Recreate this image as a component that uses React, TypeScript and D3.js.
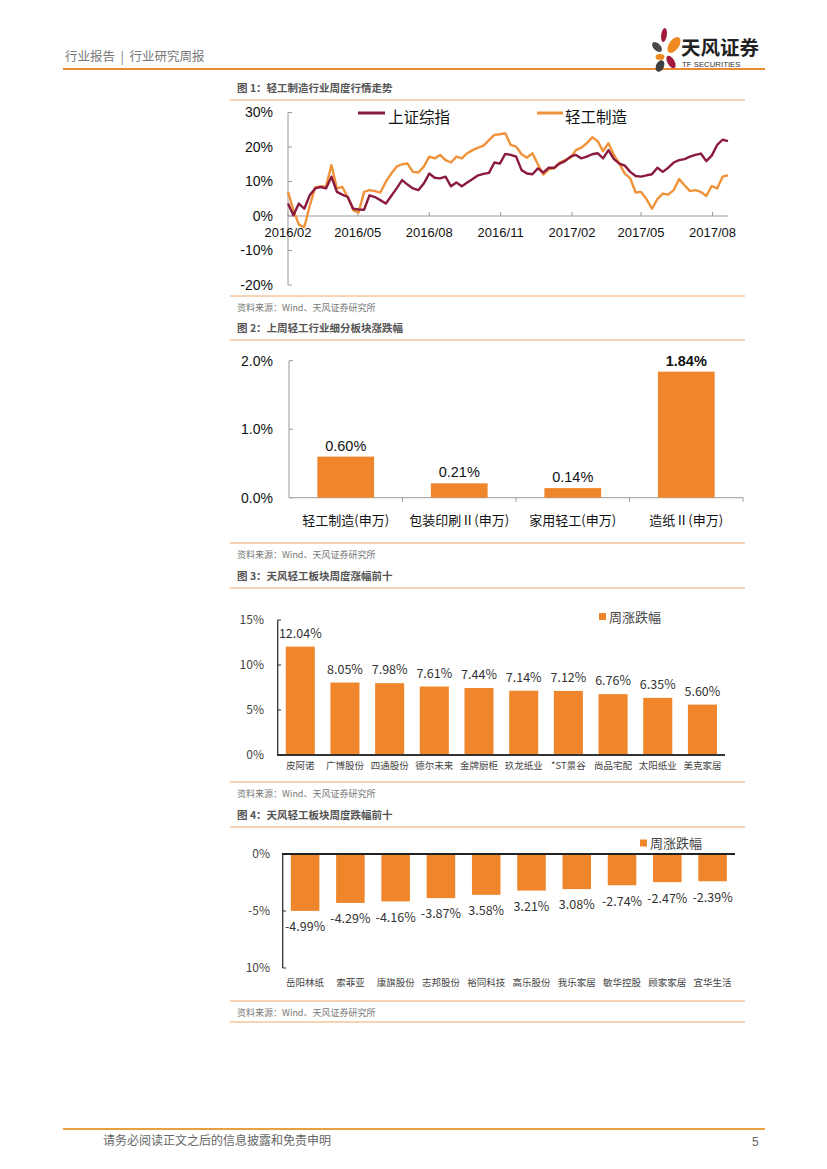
import React from 'react';
import * as d3 from 'd3';

// ---------- Data ----------
// Chart 1: weekly cumulative returns (%), Fridays from 2016-02-05
const shIndex = [3.6,0.2,3.6,2.1,6.0,8.0,8.4,8.0,11.4,7.0,6.2,5.5,2.1,1.9,1.8,6.0,5.5,4.6,3.6,5.8,8.0,10.4,9.1,8.0,7.5,9.4,12.3,11.1,10.9,11.4,8.6,9.7,8.6,9.7,10.7,11.8,12.2,12.5,15.5,15.2,18.0,17.7,17.2,13.3,12.3,12.1,13.8,12.6,14.0,14.0,15.2,15.9,17.2,17.7,16.7,17.2,17.9,18.2,16.7,19.1,16.5,15.2,14.6,12.8,11.6,11.4,11.8,12.1,14.0,12.8,14.0,15.5,16.2,16.5,17.2,17.7,18.1,15.9,17.5,20.6,22.1,21.7];
const lightInd = [7.0,1.7,-2.5,-3.2,2.9,8.3,8.6,8.6,14.8,8.0,8.4,5.5,1.7,1.0,7.0,7.5,7.2,6.8,9.9,12.3,14.3,15.0,15.2,12.8,12.6,14.3,17.2,16.7,17.7,16.2,15.5,17.2,16.7,18.2,19.1,19.8,20.4,22.0,23.5,23.7,24.0,20.6,20.1,17.9,16.9,18.2,15.0,12.0,13.5,13.8,15.5,16.2,16.9,19.1,19.8,21.1,22.8,21.7,18.8,21.1,17.7,15.2,12.3,10.9,6.8,7.0,4.9,2.1,4.9,6.5,6.2,7.5,10.7,8.9,7.2,7.5,7.0,5.8,8.7,8.0,11.4,11.8];
const chart1Series = ['上证综指', '轻工制造'];
const chart1XTicks = ['2016/02', '2016/05', '2016/08', '2016/11', '2017/02', '2017/05', '2017/08'];
const chart1YTicks = [30, 20, 10, 0, -10, -20];

// Chart 2
const sectors = ['轻工制造(申万)', '包装印刷Ⅱ(申万)', '家用轻工(申万)', '造纸Ⅱ(申万)'];
const sectorValues = [0.60, 0.21, 0.14, 1.84];
const chart2YTicks = [2.0, 1.0, 0.0];

// Chart 3
const gainers = ['皮阿诺', '广博股份', '四通股份', '德尔未来', '金牌厨柜', '玖龙纸业', '*ST景谷', '尚品宅配', '太阳纸业', '美克家居'];
const gainValues = [12.04, 8.05, 7.98, 7.61, 7.44, 7.14, 7.12, 6.76, 6.35, 5.60];
const chart3YTicks = [15, 10, 5, 0];

// Chart 4
const losers = ['岳阳林纸', '索菲亚', '康旗股份', '志邦股份', '裕同科技', '高乐股份', '我乐家居', '敏华控股', '顾家家居', '宜华生活'];
const lossValues = [-4.99, -4.29, -4.16, -3.87, -3.58, -3.21, -3.08, -2.74, -2.47, -2.39];
const lossLabels = ['-4.99%', '-4.29%', '-4.16%', '-3.87%', '3.58%', '3.21%', '3.08%', '-2.74%', '-2.47%', '-2.39%'];
const chart4YTicks = [0, -5, -10];
const chart4YLabels = ['0%', '-5%', '10%'];

const legendName = '周涨跌幅';

// ---------- Styles ----------
const ORANGE = '#F0862B';
const DARKRED = '#8B1A3F';
const LINE_ORANGE = '#F0A86A';
const SANS = '"Liberation Sans", Arial, "Noto Sans CJK SC", sans-serif';
const CJK = '"Noto Sans CJK SC", "Liberation Sans", sans-serif';

function Section({ title, top, bottom }: { title: string; top: number; bottom: number }) {
  return (
    <g>
      <text x={237} y={top - 8} fontFamily={CJK} fontSize={10.5} fontWeight="bold" fill="#555">{title}</text>
      <line x1={230} x2={745} y1={top} y2={top} stroke={LINE_ORANGE} strokeWidth={1} />
      <line x1={230} x2={745} y1={bottom} y2={bottom} stroke={LINE_ORANGE} strokeWidth={1} />
      <text x={237} y={bottom + 15} fontFamily={CJK} fontSize={9} fill="#777">资料来源：Wind、天风证券研究所</text>
    </g>
  );
}

function Chart1() {
  const start = new Date(2016, 1, 5);
  const dates = shIndex.map((_, i) => d3.timeDay.offset(start, 7 * i));
  const x = d3.scaleTime().domain([start, dates[dates.length - 1]]).range([288, 728]);
  const y = d3.scaleLinear().domain([-20, 30]).range([285, 112.5]);
  const tickDates = chart1XTicks.map((_, i) => d3.timeMonth.offset(start, 3 * i));
  const line = d3.line<number>().x((_, i) => x(dates[i])).y(d => y(d)).curve(d3.curveLinear);
  return (
    <g>
      <line x1={288} x2={288} y1={y(30)} y2={y(-20)} stroke="#999" />
      {chart1YTicks.map(t => (
        <g key={t}>
          <line x1={288} x2={292} y1={y(t)} y2={y(t)} stroke="#999" />
          <text x={273} y={y(t)} dy="0.35em" textAnchor="end" fontFamily={SANS} fontSize={14} fill="#111">{t}%</text>
        </g>
      ))}
      <line x1={288} x2={728} y1={y(0)} y2={y(0)} stroke="#999" />
      {tickDates.map((d, i) => (
        <g key={i}>
          <line x1={x(d)} x2={x(d)} y1={y(0)} y2={y(0) - 4} stroke="#999" />
          <text x={x(d)} y={y(0) + 16} dy="0.35em" textAnchor="middle" fontFamily={SANS} fontSize={13} fill="#111">{chart1XTicks[i]}</text>
        </g>
      ))}
      <path d={line(lightInd) || ''} fill="none" stroke="#F0923A" strokeWidth={2.4} strokeLinejoin="round" />
      <path d={line(shIndex) || ''} fill="none" stroke={DARKRED} strokeWidth={2.4} strokeLinejoin="round" />
      <line x1={358} x2={385} y1={113} y2={113} stroke={DARKRED} strokeWidth={3} />
      <text x={388} y={118} dy="0.35em" fontFamily={CJK} fontSize={15.5} fill="#111">{chart1Series[0]}</text>
      <line x1={537} x2={563} y1={113} y2={113} stroke="#F0923A" strokeWidth={3} />
      <text x={565} y={118} dy="0.35em" fontFamily={CJK} fontSize={15.5} fill="#111">{chart1Series[1]}</text>
    </g>
  );
}

function Chart2() {
  const x = d3.scaleBand().domain(sectors).range([289, 743]).paddingInner(0.5).paddingOuter(0.25);
  const y = d3.scaleLinear().domain([0, 2]).range([497.7, 360.7]);
  const step = x.step();
  return (
    <g>
      <line x1={289} x2={289} y1={y(2)} y2={y(0)} stroke="#999" />
      {chart2YTicks.map(t => (
        <g key={t}>
          <line x1={289} x2={293} y1={y(t)} y2={y(t)} stroke="#999" />
          <text x={273} y={y(t)} dy="0.35em" textAnchor="end" fontFamily={SANS} fontSize={14} fill="#111">{t.toFixed(1)}%</text>
        </g>
      ))}
      <line x1={289} x2={743} y1={y(0)} y2={y(0)} stroke="#999" />
      {sectors.map((_, i) => (
        <line key={i} x1={289 + step * (i + 1)} x2={289 + step * (i + 1)} y1={y(0)} y2={y(0) + 4} stroke="#999" />
      ))}
      {sectors.map((s, i) => {
        const v = sectorValues[i];
        const cx = (x(s) || 0) + x.bandwidth() / 2;
        return (
          <g key={s}>
            <rect x={x(s)} y={y(v)} width={x.bandwidth()} height={y(0) - y(v)} fill={ORANGE} />
            <text x={cx} y={y(v) - 6} textAnchor="middle" fontFamily={SANS} fontSize={14.5} fontWeight={v === d3.max(sectorValues) ? 'bold' : 'normal'} fill="#111">{v.toFixed(2)}%</text>
            <text x={cx} y={520} dy="0.35em" textAnchor="middle" fontFamily={CJK} fontSize={13} fill="#111">{s}</text>
          </g>
        );
      })}
    </g>
  );
}

function Chart3() {
  const x = d3.scaleBand().domain(gainers).range([277.7, 725]).paddingInner(0.35).paddingOuter(0.18);
  const y = d3.scaleLinear().domain([0, 15]).range([755, 620]);
  return (
    <g>
      {chart3YTicks.map(t => (
        <g key={t}>
          <line x1={277.7} x2={281} y1={y(t)} y2={y(t)} stroke="#333" />
          <text x={264} y={y(t)} dy="0.35em" textAnchor="end" fontFamily={CJK} fontSize={12} fill="#444">{t}%</text>
        </g>
      ))}
      {gainers.map((s, i) => {
        const v = gainValues[i];
        const cx = (x(s) || 0) + x.bandwidth() / 2;
        return (
          <g key={s}>
            <rect x={x(s)} y={y(v)} width={x.bandwidth()} height={y(0) - y(v)} fill={ORANGE} />
            <text x={cx} y={y(v) - 9} textAnchor="middle" fontFamily={CJK} fontSize={12.5} fill="#333">{v.toFixed(2)}%</text>
            <text x={cx} y={766} dy="0.35em" textAnchor="middle" fontFamily={CJK} fontSize={9.5} fill="#444">{s}</text>
          </g>
        );
      })}
      <line x1={277.7} x2={277.7} y1={y(15)} y2={y(0)} stroke="#333" strokeWidth={1.3} />
      <line x1={277} x2={725} y1={y(0)} y2={y(0)} stroke="#333" strokeWidth={2} />
      <rect x={599} y={613} width={7} height={7} fill={ORANGE} />
      <text x={609} y={617} dy="0.35em" fontFamily={CJK} fontSize={13} fill="#444">{legendName}</text>
    </g>
  );
}

function Chart4() {
  const x = d3.scaleBand().domain(losers).range([282.7, 735]).paddingInner(0.37).paddingOuter(0.18);
  const y = d3.scaleLinear().domain([-10, 0]).range([968, 854]);
  return (
    <g>
      {chart4YTicks.map((t, i) => (
        <g key={t}>
          <line x1={282.7} x2={286} y1={y(t)} y2={y(t)} stroke="#333" />
          <text x={270} y={y(t)} dy="0.35em" textAnchor="end" fontFamily={CJK} fontSize={12} fill="#444">{chart4YLabels[i]}</text>
        </g>
      ))}
      {losers.map((s, i) => {
        const v = lossValues[i];
        const cx = (x(s) || 0) + x.bandwidth() / 2;
        return (
          <g key={s}>
            <rect x={x(s)} y={y(0)} width={x.bandwidth()} height={y(v) - y(0)} fill={ORANGE} />
            <text x={cx} y={y(v) + 16} dy="0.35em" textAnchor="middle" fontFamily={CJK} fontSize={12.5} fill="#333">{lossLabels[i]}</text>
            <text x={cx} y={983} dy="0.35em" textAnchor="middle" fontFamily={CJK} fontSize={9.5} fill="#444">{s}</text>
          </g>
        );
      })}
      <line x1={282.7} x2={282.7} y1={y(0)} y2={y(-10)} stroke="#333" strokeWidth={1.3} />
      <line x1={282} x2={735} y1={y(0)} y2={y(0)} stroke="#222" strokeWidth={2} />
      <rect x={640} y={839.5} width={7} height={7} fill={ORANGE} />
      <text x={650} y={843} dy="0.35em" fontFamily={CJK} fontSize={13} fill="#444">{legendName}</text>
    </g>
  );
}

function Header() {
  return (
    <g>
      <text x={65} y={57} dy="0.35em" fontFamily={CJK} fontSize={12.5} fill="#777" style={{ whiteSpace: 'pre' }}>行业报告  |  行业研究周报</text>
      <line x1={63} x2={765} y1={69} y2={69} stroke="#E98A34" strokeWidth={1.8} />
      {/* logo petals */}
      <ellipse cx={664} cy={35} rx={2.8} ry={7} fill="#A11A3C" transform="rotate(8 664 35)" />
      <ellipse cx={674} cy={45} rx={5} ry={9} fill="#EE8A1F" transform="rotate(35 674 45)" />
      <ellipse cx={657} cy={47} rx={3.5} ry={6} fill="#4A4A4A" transform="rotate(-45 657 47)" />
      <ellipse cx={660} cy={57} rx={4.5} ry={3} fill="#EE8A1F" />
      <ellipse cx={671} cy={62} rx={3.5} ry={7} fill="#A11A3C" transform="rotate(-30 671 62)" />
      <ellipse cx={660} cy={66} rx={4} ry={6} fill="#3F3F3F" transform="rotate(25 660 66)" />
      <text x={681} y={48} dy="0.35em" fontFamily={CJK} fontSize={19.5} fontWeight="bold" fill="#222">天风证券</text>
      <text x={682} y={64} dy="0.35em" fontFamily={SANS} fontSize={7.8} fill="#333">TF SECURITIES</text>
    </g>
  );
}

function Footer() {
  return (
    <g>
      <line x1={63} x2={765} y1={1129} y2={1129} stroke="#E9A040" strokeWidth={2} />
      <text x={103} y={1141} dy="0.35em" fontFamily={CJK} fontSize={12} fill="#666">请务必阅读正文之后的信息披露和免责申明</text>
      <text x={752} y={1142} dy="0.35em" fontFamily={SANS} fontSize={12} fill="#666">5</text>
    </g>
  );
}

export default function App() {
  return (
    <svg width={827} height={1169} viewBox="0 0 827 1169" style={{ position: 'absolute', left: 0, top: 0, background: '#fff' }}>
      <rect x={0} y={0} width={827} height={1169} fill="#fff" />
      <Header />
      <Section title="图 1：轻工制造行业周度行情走势" top={100} bottom={296} />
      <Chart1 />
      <Section title="图 2：上周轻工行业细分板块涨跌幅" top={340} bottom={543} />
      <Chart2 />
      <Section title="图 3：天风轻工板块周度涨幅前十" top={588} bottom={782} />
      <Chart3 />
      <Section title="图 4：天风轻工板块周度跌幅前十" top={827} bottom={1001} />
      <line x1={230} x2={745} y1={1022} y2={1022} stroke={LINE_ORANGE} strokeWidth={1} />
      <Chart4 />
      <Footer />
    </svg>
  );
}
